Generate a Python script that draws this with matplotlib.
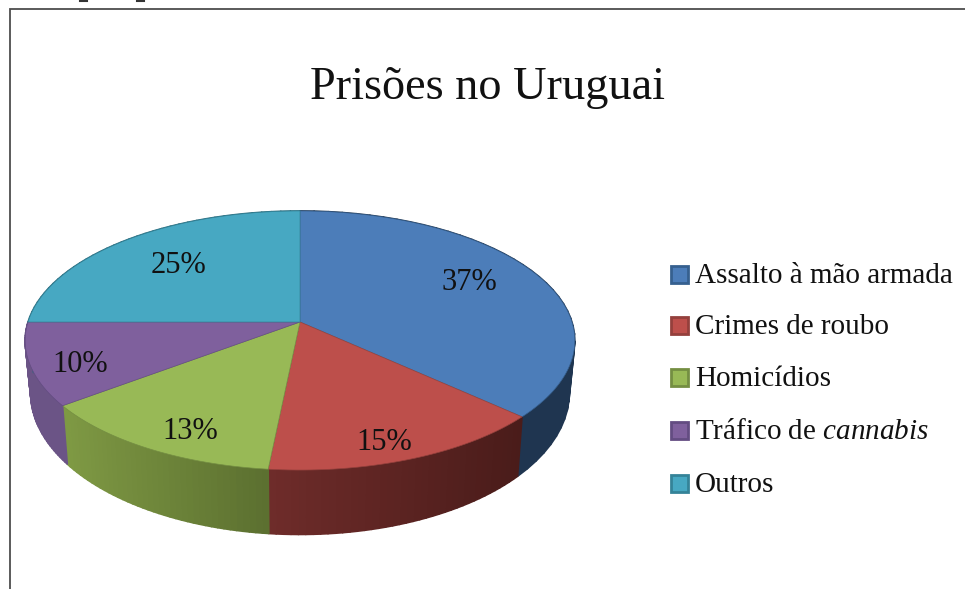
import numpy as np
from matplotlib import pyplot as plt
from matplotlib.collections import PolyCollection
from matplotlib.colors import to_rgb
from matplotlib.patches import Polygon, Rectangle

# the data (labels show them rounded)
categories = ["Assalto à mão armada", "Crimes de roubo", "Homicídios", r"Tráfico de $\mathit{cannabis}$", "Outros"]
percent = [36.8, 14.8, 13.1, 10.3, 25.0]

# colours: top of the slice, then side of the slice (left end, right end)
top_colors = ["#4C7DB9", "#BD4F4B", "#98B956", "#7F609D", "#47A8C2"]
side_left = ["#1F3550", "#6F2C2A", "#7F9A44", "#6B5486", "#2B6B7C"]
side_right = ["#1F3550", "#4A1C1A", "#5C7030", "#6B5486", "#2B6B7C"]
legend_edge = ["#36608F", "#94403C", "#748E42", "#634C82", "#348398"]

# nudges for the percent labels, in pixels
label_nudge = [(-21, 0), (-3, 14), (9, 11), (-6, 9), (21, 10)]
legend_y = [276, 327, 379, 432, 485]

# the pie is a circle seen in perspective
CX, CY = 300, 322
RX, RY = 272, 126.9
PERSP = 1 / 7
SIDE_SHRINK, SIDE_STRETCH, SIDE_DROP = 0.98, 1.094, 50.5


def top_point(angle, r=1.0):
    u, v = r * np.sin(angle), r * np.cos(angle)
    s = 1 / (1 + PERSP * v)
    return CX + RX * u * s, CY - RY * v * s


def bottom_point(angle):
    x, y = top_point(angle)
    return CX + (x - CX) * SIDE_SHRINK, CY + SIDE_DROP + (y - CY) * SIDE_STRETCH


plt.rcParams["font.family"] = "Liberation Serif"
plt.rcParams["mathtext.fontset"] = "custom"
plt.rcParams["mathtext.rm"] = "Liberation Serif"
plt.rcParams["mathtext.it"] = "Liberation Serif:italic"

fig = plt.figure(figsize=(9.65, 5.89), dpi=100)
ax = fig.add_axes([0, 0, 1, 1])
ax.set_xlim(0, 965)
ax.set_ylim(589, 0)
ax.axis("off")

# frame of the pasted chart, only left and top show
ax.plot([10, 10, 965], [589, 8.5, 8.5], color="#4d4d4d", lw=1.3, solid_joinstyle="miter")
# feet of the cut off line of text above the chart
ax.plot([80, 87], [0.5, 0.5], color="#333333", lw=1.5)
ax.plot([137, 144], [0.5, 0.5], color="#333333", lw=1.5)

edges = np.cumsum([0] + percent) / sum(percent) * 2 * np.pi

# side of the pie first, thin strips so the shading can run across a slice
for i in range(len(percent)):
    angles = np.linspace(edges[i], edges[i + 1], 40)
    strips = []
    colors = []
    xs = np.array([top_point(a)[0] for a in angles])
    span = max(xs.max() - xs.min(), 1)
    for a0, a1 in zip(angles[:-1], angles[1:]):
        strips.append([top_point(a0), top_point(a1), bottom_point(a1), bottom_point(a0)])
        t = (top_point(a0)[0] - xs.min()) / span
        c0, c1 = np.array(to_rgb(side_left[i])), np.array(to_rgb(side_right[i]))
        colors.append(c0 + (c1 - c0) * t)
    ax.add_collection(PolyCollection(strips, facecolors=colors, edgecolors=colors, linewidths=1.2, zorder=2))

# then the top
for i in range(len(percent)):
    angles = np.linspace(edges[i], edges[i + 1], 120)
    pts = [top_point(0, 0)] + [top_point(a) for a in angles]
    ax.add_patch(Polygon(pts, closed=True, facecolor=top_colors[i], edgecolor=legend_edge[i], lw=0.5, zorder=3))

# percent labels
for i, val in enumerate(percent):
    mid = (edges[i] + edges[i + 1]) / 2
    x, y = top_point(mid, 0.8)
    ax.text(x + label_nudge[i][0], y + label_nudge[i][1], f"{val:.0f}%", fontsize=22, color="#111111",
            ha="center", va="center", zorder=4)

# legend
for i, name in enumerate(categories):
    ax.add_patch(Rectangle((671, legend_y[i] - 10), 17, 17, facecolor=top_colors[i],
                           edgecolor=legend_edge[i], lw=2, zorder=3))
    ax.text(695, legend_y[i], name, fontsize=21, color="#111111", ha="left", va="center")

ax.text(487, 88, "Prisões no Uruguai", fontsize=33.3, color="#111111", ha="center", va="center")

fig.savefig("out.png", dpi=100)
